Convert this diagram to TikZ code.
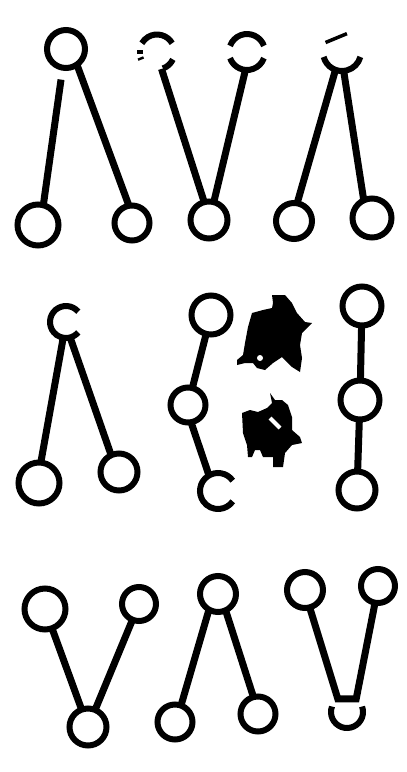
\documentclass[tikz,border=0pt]{standalone}
\begin{document}
\begin{tikzpicture}[
    x=1pt, y=1pt,
    ball/.style={circle, draw, line width=6pt, inner sep=0pt, outer sep=0pt, minimum size=#1},
    ring/.style={circle, inner sep=0pt, outer sep=0pt, minimum size=#1},
    stick/.style={line width=7pt},
    rim/.style={line width=6pt}
]
\useasboundingbox (0,0) rectangle (407,-772);

\node[ball=38] (A0) at (66,-49) {};
\node[ball=41] (A1) at (38,-225) {};
\node[ball=35] (A2) at (132,-223) {};
\draw[stick, shorten <=12pt] (A0.-100) -- (A1.75);
\draw[stick] (A0.-55) -- (A2.100);

\node[ring=35] (B0) at (157,-52) {};
\node[ring=36] (B1) at (247,-52) {};
\node[ball=37] (B2) at (209,-220) {};
\draw[rim] (B0.30) arc[start angle=30, end angle=150, radius=17.5pt];
\draw[rim] (B0.175) arc[start angle=175, end angle=185, radius=17.5pt];
\draw[rim] (B0.198) arc[start angle=198, end angle=206, radius=17.5pt];
\draw[rim] (B0.-70) arc[start angle=-70, end angle=-25, radius=17.5pt];
\draw[rim] (B1.20) arc[start angle=20, end angle=160, radius=18pt];
\draw[rim] (B1.200) arc[start angle=200, end angle=340, radius=18pt];
\draw[stick] (B0.-75) -- (B2.105);
\draw[stick] (B1.-95) -- (B2.75);

\node[ring=38] (C0) at (342,-52) {};
\node[ball=36] (C1) at (294,-221) {};
\node[ball=39] (C2) at (372,-218) {};
\draw[line width=3.5pt] (C0.150) -- (C0.75);
\draw[rim] (C0.195) arc[start angle=195, end angle=345, radius=19pt];
\draw[stick] (C0.-110) -- (C1.80);
\draw[stick] (C0.-85) -- (C2.115);

\node[ring=32] (D0) at (66,-322) {};
\node[ball=41] (D1) at (39,-483) {};
\node[ball=37] (D2) at (119,-472) {};
\draw[rim] (D0.40) arc[start angle=40, end angle=320, radius=16pt];
\draw[stick] (D0.-100) -- (D1.85);
\draw[stick] (D0.-75) -- (D2.115);

\node[ball=39] (E0) at (211,-315) {};
\node[ball=35] (E1) at (188,-405) {};
\node[ring=36] (E2) at (218,-491) {};
\draw[rim] (E2.35) arc[start angle=35, end angle=325, radius=18pt];
\draw[stick] (E0) -- (E1);
\draw[stick] (E1.-80) -- (E2.120);

\fill (272,-295) -- (285,-295) -- (292,-303) -- (297,-313) -- (305,-322) -- (312,-323)
  -- (307,-328) -- (302,-333) -- (300,-345) -- (302,-358) -- (300,-372) -- (292,-367)
  -- (282,-357) -- (273,-363) -- (265,-370) -- (257,-368) -- (253,-363) -- (245,-363)
  -- (237,-365) -- (237,-360) -- (243,-355) -- (245,-343) -- (248,-327) -- (252,-313)
  -- (263,-310) -- (272,-308) -- (273,-303) -- cycle;
\fill[white] (260,-358) circle[radius=3pt];
\fill (270,-393) -- (275,-400) -- (282,-400) -- (288,-405) -- (292,-417) -- (292,-430)
  -- (300,-437) -- (302,-443) -- (292,-445) -- (285,-453) -- (283,-467) -- (273,-467)
  -- (273,-457) -- (263,-457) -- (260,-450) -- (255,-450) -- (252,-457) -- (248,-457)
  -- (247,-445) -- (243,-433) -- (242,-413) -- (250,-410) -- (258,-412) -- (267,-408)
  -- (272,-403) -- cycle;
\draw[white, line width=4pt] (270,-418) -- (280,-428);

\node[ball=39] (G0) at (362,-306) {};
\node[ball=39] (G1) at (360,-400) {};
\node[ball=37] (G2) at (357,-490) {};
\draw[stick] (G0) -- (G1);
\draw[stick] (G1) -- (G2);

\node[ball=41] (H0) at (45,-609) {};
\node[ball=34] (H1) at (139,-604) {};
\node[ball=37] (H2) at (88,-727) {};
\draw[stick] (H0) -- (H2);
\draw[stick] (H1) -- (H2);

\node[ball=36] (I0) at (218,-594) {};
\node[ball=35] (I1) at (175,-722) {};
\node[ball=35] (I2) at (258,-714) {};
\draw[stick] (I0.-120) -- (I1.70);
\draw[stick] (I0.-65) -- (I2.105);

\node[ball=36] (J0) at (305,-590) {};
\node[ball=34] (J1) at (378,-586) {};
\node[ring=32] (J2) at (347,-712) {};
\draw[stick] (J0.-75) -- (J2.125) -- (J2.55) -- (J1.-100);
\draw[rim] (J2.160) arc[start angle=160, end angle=380, radius=16pt];
\end{tikzpicture}
\end{document}
